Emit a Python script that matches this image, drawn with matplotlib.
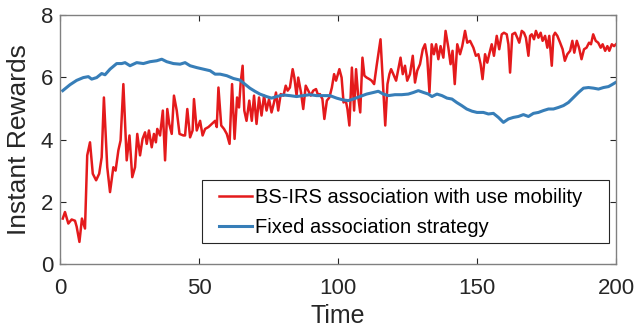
import matplotlib
matplotlib.use('Agg')
import matplotlib.pyplot as plt
from matplotlib.patches import Rectangle

plt.rcParams['font.family'] = ['Liberation Sans', 'DejaVu Sans']

# Red series: BS-IRS association with user mobility
x_rojo = [1, 1.8, 3, 4.2, 5.4, 6, 7, 7.9, 9, 9.8, 10.8, 11.8, 13, 14.1, 15, 15.8, 17, 18, 19.2, 20,
          21, 21.8, 22.8, 24, 25, 26, 27, 27.8, 28.8, 29.7, 30.6, 31.2, 32, 33, 33.8, 34.5, 35, 36, 37, 37.8,
          38.6, 39.3, 40.2, 41, 42, 43, 44.4, 45, 45.8, 46.8, 47.7, 48.2, 49.2, 50.4, 51.3, 52.2, 53.4, 54.6, 55.8, 56.4,
          57, 58, 59, 60, 61, 61.9, 62.8, 63.7, 64.4, 65, 65.7, 66.3, 67.1, 68.1, 69, 69.8, 70.7, 71.6, 72.5, 73.4,
          74.3, 75.2, 76.1, 77, 77.7, 78.5, 79.4, 80.4, 81.2, 81.9, 82.7, 83.7, 84.3, 85.1, 85.7, 86.7, 87.5, 88.4, 89.3, 90.2,
          91.1, 92.1, 92.9, 93.5, 94.4, 95.1, 96, 96.9, 97.8, 98.6, 99.3, 100.5, 101.3, 102, 102.8, 103.4, 104.1, 105, 105.8, 106.5,
          107.3, 108, 108.8, 109.5, 110.3, 111.3, 112.1, 113, 113.9, 115.3, 116.3, 117, 117.8, 118.5, 119.1, 119.9, 120.9, 121.7, 122.5,
          123.3, 124.1, 124.9, 125.9, 126.9, 127.7, 128.5, 129.5, 130.5, 131.3, 132.1, 132.9, 133.7, 134.5, 135.3, 136.1, 136.9, 137.9, 138.7, 139.7,
          140.5, 141.2, 142, 142.9, 143.9, 144.7, 145.7, 146.5, 147.5, 148.7, 149.6, 150.5, 151.3, 152, 152.9, 153.7, 154.4, 155.3, 156.1, 157.1,
          158, 158.9, 159.7, 160.7, 161.3, 161.9, 162.7, 163.7, 164.5, 165.2, 166.1, 166.9, 167.6, 168.5, 169.1, 169.7, 170.5, 171.2, 172.1, 172.9,
          173.6, 174.5, 175.3, 176, 176.9, 177.5, 178.1, 178.9, 179.9, 180.8, 181.6, 182.5, 183.5, 184.3, 185, 185.9, 186.7, 187.6, 188.5, 189.4,
          190.3, 191, 191.8, 192.7, 193.6, 194.5, 195.2, 196.1, 196.9, 197.6, 198.5, 199.3, 200]
y_rojo = [1.46, 1.67, 1.3, 1.43, 1.39, 1.2, 0.71, 1.46, 1.14, 3.49, 3.91, 2.9, 2.69, 2.9, 3.43, 5.35, 3.11, 2.31, 3.11, 3.0,
          3.65, 3.97, 5.78, 3.33, 4.13, 2.79, 3.11, 4.18, 3.49, 4.02, 4.23, 3.86, 4.29, 3.75, 4.18, 3.91, 4.34, 4.13, 4.93, 3.33,
          4.98, 4.5, 4.18, 5.41, 4.93, 4.18, 4.13, 4.13, 4.98, 4.07, 4.29, 5.3, 4.29, 4.6, 4.13, 4.34, 4.4, 4.5, 4.6, 4.4,
          5.67, 4.45, 4.34, 4.18, 3.86, 5.78, 4.02, 5.35, 5.03, 5.83, 6.37, 4.93, 4.6, 5.25, 4.6, 5.41, 4.5, 5.35, 4.77, 5.41,
          4.93, 5.3, 4.87, 5.19, 5.51, 4.93, 5.46, 5.41, 5.73, 5.57, 5.67, 6.26, 5.99, 5.41, 5.99, 5.51, 4.98, 5.73, 5.57, 5.41,
          5.57, 5.62, 5.41, 5.46, 5.3, 4.66, 5.25, 5.35, 5.67, 6.1, 5.89, 6.26, 5.99, 5.19, 5.25, 4.98, 4.45, 6.31, 4.93, 6.26,
          5.35, 4.87, 6.63, 6.05, 5.99, 5.94, 5.89, 5.78, 6.37, 7.22, 5.57, 4.45, 5.78, 6.1, 6.26, 6.1, 5.89, 6.26, 6.63,
          6.1, 6.37, 5.89, 6.1, 6.69, 5.83, 6.21, 6.42, 6.9, 7.06, 6.63, 5.51, 7.06, 6.74, 7.06, 6.58, 7.0, 6.63, 7.49, 6.95,
          6.42, 6.85, 5.78, 7.06, 6.74, 7.0, 7.49, 7.11, 7.17, 6.95, 6.69, 6.74, 6.42, 5.94, 6.74, 6.47, 6.74, 7.06, 6.69, 7.33,
          6.9, 7.38, 7.43, 7.38, 7.06, 6.15, 7.38, 7.43, 7.27, 7.11, 7.49, 7.43, 7.27, 6.69, 7.33, 7.38, 7.22, 7.49, 7.27, 7.43,
          7.17, 7.33, 6.95, 7.33, 6.37, 7.33, 7.43, 7.33, 7.11, 6.9, 6.53, 6.74, 6.85, 7.17, 6.79, 7.17, 6.95, 6.58, 6.9, 6.95,
          7.11, 7.06, 7.38, 7.17, 7.11, 6.95, 7.06, 6.85, 7.0, 6.85, 7.06, 7.0, 7.06]

# Blue series: fixed association strategy
x_azul = [1, 3.6, 6, 8.4, 10.2, 11.4, 13.2, 15, 16.2, 18, 20.4, 22.2, 23.4, 25.2, 27.6, 30, 32.4, 34.8, 36.6, 38.4,
          40.8, 43.2, 45, 46.8, 49.2, 51.6, 54, 55.8, 57.6, 60, 62.4, 64.7, 66.5, 68.3, 70.1, 71.9, 74.3, 76.1, 77.9, 80.3,
          82.7, 85.1, 87.5, 89.9, 92.3, 94.7, 97.1, 99.5, 101.9, 103.7, 105.5, 107.9, 110.3, 112.7, 114.5, 116.3, 118.1, 120.5, 122.9, 125.3,
          127.1, 128.9, 130.8, 132.5, 133.8, 135.6, 137.4, 139.2, 141, 142.7, 144.5, 146.3, 148.2, 150, 152.3, 154.1, 155.9, 157.7, 159.5, 161.3,
          163.1, 164.9, 166.7, 168.5, 170.3, 172.1, 173.9, 175.7, 177.5, 179.3, 181.1, 182.9, 184.7, 186.5, 188.3, 190.1, 191.9, 193.7, 195.5, 197.3,
          198.5, 200]
y_azul = [5.57, 5.76, 5.9, 5.99, 6.02, 5.94, 5.99, 6.12, 6.08, 6.26, 6.44, 6.44, 6.47, 6.37, 6.47, 6.44, 6.5, 6.53, 6.58, 6.5,
          6.44, 6.42, 6.47, 6.37, 6.31, 6.26, 6.21, 6.1, 6.1, 6.05, 5.96, 5.91, 5.78, 5.65, 5.55, 5.46, 5.38, 5.33, 5.38, 5.43,
          5.41, 5.38, 5.41, 5.44, 5.41, 5.41, 5.41, 5.33, 5.27, 5.25, 5.3, 5.38, 5.46, 5.51, 5.55, 5.46, 5.41, 5.44, 5.44, 5.46,
          5.51, 5.57, 5.51, 5.46, 5.38, 5.46, 5.41, 5.33, 5.3, 5.19, 5.09, 4.98, 4.91, 4.87, 4.87, 4.82, 4.84, 4.71, 4.55, 4.66,
          4.71, 4.74, 4.8, 4.74, 4.84, 4.87, 4.93, 4.98, 4.98, 5.03, 5.09, 5.19, 5.35, 5.51, 5.65, 5.67, 5.65, 5.62, 5.67, 5.7,
          5.76, 5.84]

etiqueta_rojo = 'BS-IRS association with use mobility'
etiqueta_azul = 'Fixed association strategy'

fig = plt.figure(figsize=(6.34, 3.32), dpi=100)
ax = fig.add_axes([0.0946, 0.2048, 0.877, 0.75])

ax.plot(x_rojo, y_rojo, color='#E41A1C', linewidth=1.8, label=etiqueta_rojo)
ax.plot(x_azul, y_azul, color='#377EB8', linewidth=2.2, label=etiqueta_azul)

ax.set_xlim(0, 200)
ax.set_ylim(0, 8)
ax.set_xticks([0, 50, 100, 150, 200])
ax.set_yticks([0, 2, 4, 6, 8])
ax.tick_params(direction='in', top=True, right=True, labelsize=16, colors='#262626', length=4)
ax.tick_params(axis='x', pad=10)
ax.tick_params(axis='y', pad=5)
for lado in ax.spines.values():
    lado.set_color('#808080')
    lado.set_linewidth(1.0)

ax.set_xlabel('Time', fontsize=18, color='#262626', labelpad=4)
ax.set_ylabel('Instant Rewards', fontsize=19, color='#262626')
ax.yaxis.set_label_coords(-0.053, 0.5)

# legend without own frame, box drawn separately (MATLAB style padding)
leyenda = ax.legend(loc='center left', bbox_to_anchor=(0.286, 0.207), fontsize=14.5, frameon=False,
                    handlelength=1.65, handletextpad=0.15, borderpad=0, labelspacing=0.55,
                    borderaxespad=0)
marco = Rectangle((0.2554, 0.0843), 0.732, 0.2527, transform=ax.transAxes, fill=False,
                  edgecolor='#262626', linewidth=0.8, zorder=5)
ax.add_patch(marco)

fig.savefig('out.png', dpi=100)
